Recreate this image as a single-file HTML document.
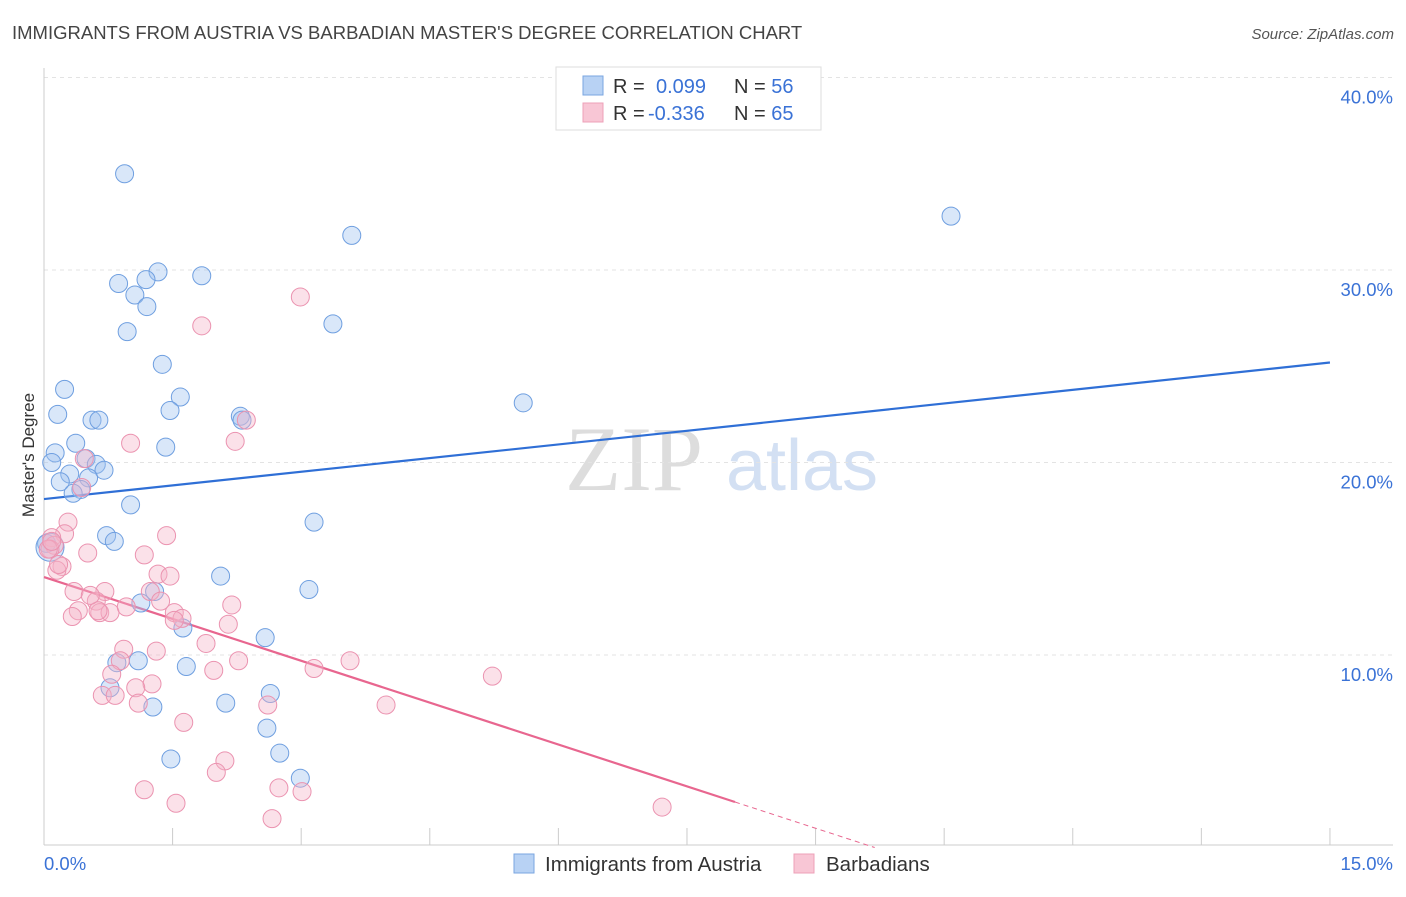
<!DOCTYPE html>
<html><head><meta charset="utf-8"><style>
body{margin:0;background:#fff;font-family:"Liberation Sans",sans-serif}
</style></head><body>
<svg id="chart" width="1406" height="892" xmlns="http://www.w3.org/2000/svg" font-family="Liberation Sans, sans-serif">
<text x="12" y="39" font-size="18.5" fill="#444">IMMIGRANTS FROM AUSTRIA VS BARBADIAN MASTER'S DEGREE CORRELATION CHART</text>
<text x="1394" y="39" font-size="15" fill="#555" text-anchor="end" font-style="italic">Source: ZipAtlas.com</text>
<g>
<text x="634" y="490" font-size="92" fill="#ddd" text-anchor="middle" font-family="Liberation Serif, serif">ZIP</text>
<text x="802" y="490" font-size="72" fill="#d3e0f3" text-anchor="middle">atlas</text>
</g>
<g id="grid"></g>
<g id="axes"></g>
<g id="lines"></g>
<g id="points"></g>
<text transform="translate(34,455) rotate(-90)" font-size="17" fill="#333" text-anchor="middle">Master's Degree</text>
<g>
<rect x="556" y="67" width="265" height="63" fill="#fff" stroke="#ddd"/>
<rect x="583" y="76" width="20" height="19" fill="#b8d2f4" stroke="#7aa6e0"/>
<rect x="583" y="103" width="20" height="19" fill="#f8c6d5" stroke="#eea0b8"/>
<text x="613" y="93" font-size="20" fill="#333">R = <tspan fill="#3a72d6" x="656">0.099</tspan><tspan x="734" fill="#333">N = </tspan><tspan fill="#3a72d6">56</tspan></text>
<text x="613" y="120" font-size="20" fill="#333">R = <tspan fill="#3a72d6" x="648">-0.336</tspan><tspan x="734" fill="#333">N = </tspan><tspan fill="#3a72d6">65</tspan></text>
</g>
<g>
<rect x="514" y="854" width="20" height="19" fill="#b8d2f4" stroke="#7aa6e0"/>
<text x="545" y="871" font-size="20.5" fill="#333">Immigrants from Austria</text>
<rect x="794" y="854" width="20" height="19" fill="#f8c6d5" stroke="#eea0b8"/>
<text x="826" y="871" font-size="20.5" fill="#333">Barbadians</text>
</g>
</svg>
<script>
const xTicks=[0,1.5,3,4.5,6,7.5,9,10.5,12,13.5,15];
const yTicks=[10,20,30,40];
const yTickLabels=["10.0%","20.0%","30.0%","40.0%"];
const xTickLabels=["0.0%","15.0%"];
const blueX=[0.94,10.58,3.59,1.33,1.19,1.84,0.87,1.06,1.20,0.97,3.37,1.38,0.24,1.59,5.59,1.47,0.16,0.56,0.64,2.29,2.31,0.37,1.42,0.13,0.09,0.49,0.61,0.70,0.30,0.19,0.52,0.43,0.34,1.01,3.15,0.73,0.82,0.03,2.06,3.09,1.29,1.13,1.62,2.58,1.10,0.85,1.66,2.64,0.77,2.12,1.27,2.60,2.75,1.48,2.99,0.07];
const blueY=[35.0,32.8,31.8,29.9,29.5,29.7,29.3,28.7,28.1,26.8,27.2,25.1,23.8,23.4,23.1,22.7,22.5,22.2,22.2,22.4,22.2,21.0,20.8,20.5,20.0,20.2,19.9,19.6,19.4,19.0,19.2,18.6,18.4,17.8,16.9,16.2,15.9,15.8,14.1,13.4,13.3,12.7,11.4,10.9,9.7,9.6,9.4,8.0,8.3,7.5,7.3,6.2,4.9,4.6,3.6,15.6];
const pinkX=[2.99,1.84,2.36,1.01,2.23,0.47,0.44,0.28,0.24,0.09,0.12,0.07,1.43,0.51,1.17,0.21,0.15,1.33,1.47,0.71,0.35,1.24,0.61,0.65,0.77,1.36,2.19,0.96,1.52,0.40,0.33,1.61,1.52,2.15,1.89,0.93,1.31,2.27,0.89,3.57,3.15,1.98,0.79,1.26,1.07,5.23,0.68,0.83,1.10,2.61,3.99,1.63,2.11,2.01,2.74,1.17,3.01,1.54,7.21,2.66,0.05,0.09,0.17,0.63,0.54];
const pinkY=[28.6,27.1,22.2,21.0,21.1,20.2,18.7,16.9,16.3,16.1,15.7,15.5,16.2,15.3,15.2,14.6,14.4,14.2,14.1,13.3,13.3,13.3,12.8,12.2,12.2,12.8,12.6,12.5,12.2,12.3,12.0,11.9,11.8,11.6,10.6,10.3,10.2,9.7,9.7,9.7,9.3,9.2,9.0,8.5,8.3,8.9,7.9,7.9,7.5,7.4,7.4,6.5,4.5,3.9,3.1,3.0,2.9,2.3,2.1,1.5,15.5,15.9,14.7,12.3,13.1];
const blueTrend=[18.1,0.473];   // intercept, slope
const pinkTrend=[14.05,-1.45];
const NS="http://www.w3.org/2000/svg";
const X=v=>44+v*85.73, Y=v=>847.5-v*19.25;
function mk(tag,attrs,parent){const e=document.createElementNS(NS,tag);for(const k in attrs)e.setAttribute(k,attrs[k]);parent.appendChild(e);return e;}
const grid=document.getElementById('grid'),axes=document.getElementById('axes'),lines=document.getElementById('lines'),pts=document.getElementById('points');
yTicks.forEach((t,i)=>{
 const l=mk('line',{x1:44,x2:1393,y1:Y(t),y2:Y(t),stroke:'#e3e3e3','stroke-dasharray':'4,4'},grid);
 
 
 const tx=mk('text',{x:1393,y:Y(t)+26,'font-size':18.5,fill:'#3a72d6','text-anchor':'end'},axes);tx.textContent=yTickLabels[i];
 
 
});
mk('line',{x1:44,x2:44,y1:68,y2:845,stroke:'#ccc'},axes);
mk('line',{x1:44,x2:1393,y1:845,y2:845,stroke:'#ccc'},axes);
xTicks.forEach(t=>{const l=mk('line',{x1:X(t),x2:X(t),y1:828,y2:845,stroke:'#ccc'},axes);
 
 });
const xl0=mk('text',{x:44,y:870,'font-size':18.5,fill:'#3a72d6'},axes);xl0.textContent=xTickLabels[0];


const xl1=mk('text',{x:1393,y:870,'font-size':18.5,fill:'#3a72d6','text-anchor':'end'},axes);xl1.textContent=xTickLabels[1];


blueX.forEach((x,i)=>{const c=mk('circle',{cx:X(x),cy:Y(blueY[i]),r:i===blueX.length-1?14:9,fill:'rgba(160,195,240,0.4)',stroke:'#6f9fe0','stroke-width':1},pts);
 
 });
pinkX.forEach((x,i)=>{const c=mk('circle',{cx:X(x),cy:Y(pinkY[i]),r:9,fill:'rgba(245,180,200,0.4)',stroke:'#eb93b0','stroke-width':1},pts);
 
 });
const bl=mk('line',{x1:X(0),y1:Y(blueTrend[0]),x2:X(15),y2:Y(blueTrend[0]+15*blueTrend[1]),stroke:'#2f6fd6','stroke-width':2.2},lines);


const xs=8.06,xe=-pinkTrend[0]/pinkTrend[1];
const pl=mk('line',{x1:X(0),y1:Y(pinkTrend[0]),x2:X(xs),y2:Y(pinkTrend[0]+xs*pinkTrend[1]),stroke:'#e8668f','stroke-width':2.2},lines);


const pd=mk('line',{x1:X(xs),y1:Y(pinkTrend[0]+xs*pinkTrend[1]),x2:X(xe),y2:Y(0),stroke:'#e8668f','stroke-width':1,'stroke-dasharray':'5,4'},lines);


</script>
</body></html>
